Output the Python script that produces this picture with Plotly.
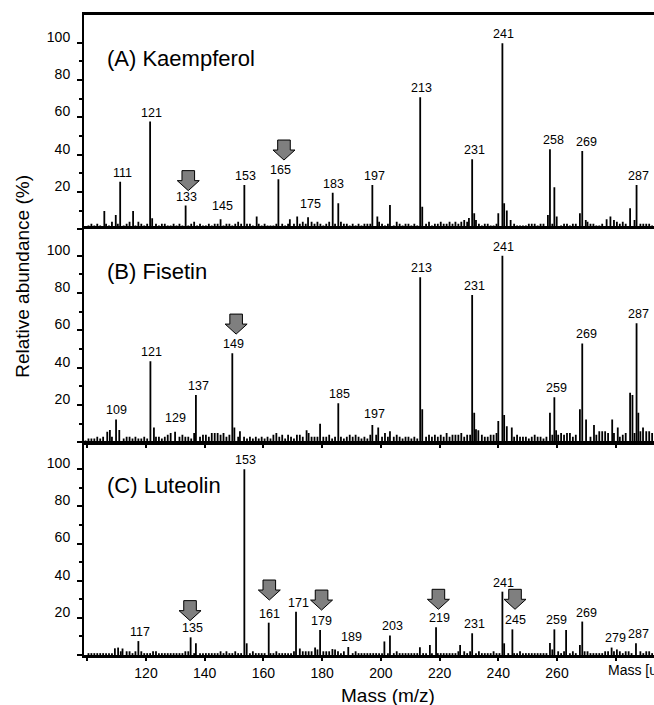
import plotly.graph_objects as go

# ---------------- data ----------------
MZ_OFFSET = 0.4          # mass-defect offset of the unlabelled noise lines
NOISE_START = 99         # first nominal mass of the noise arrays

# Panel A  (Kaempferol)
A_NOISE = [1,2,3,2,3,2,3,3,2,4,
           5,3,3,2,3,4,3,2,4,3,
           2,3,3,4,3,2,3,3,2,2,
           3,2,3,2,4,2,3,4,2,3,
           2,2,3,2,3,3,5,2,3,3,
           2,3,4,3,2,3,3,2,4,3,
           2,3,2,2,2,3,2,3,2,3,
           4,3,4,3,4,3,5,4,3,4,
           3,2,3,4,3,3,4,4,3,3,
           2,3,2,3,2,3,3,3,3,2,
           4,3,2,3,2,2,4,3,2,3,
           3,2,3,2,3,4,3,4,2,3,
           3,4,3,3,4,3,4,3,4,5,
           4,3,3,5,3,2,3,3,2,2,
           3,4,3,4,4,3,3,2,2,2,
           2,3,3,3,2,3,3,3,4,3,
           4,3,2,3,3,2,3,3,3,4,
           3,4,3,3,2,2,3,4,5,5,
           5,4,3,4,3,4,3,5,3,3,
           3,3,3,2,3]
A_PEAK_MZ = [105.8, 109.7, 111.2, 115.6, 121.4, 122.1, 133.5, 145.4, 153.5, 157.7,
             165.1, 169.0, 171.5, 175.2, 183.6, 185.5, 197.1, 198.8, 203.1, 213.4,
             214.1, 230.0, 231.1, 231.8, 240.0, 241.4, 242.0, 242.9, 244.2, 256.9,
             257.6, 259.1, 259.9, 267.8, 268.6, 269.8, 276.9, 278.2, 284.9, 287.1]
A_PEAK_INT = [9.8, 7.6, 25.5, 9.8, 57.7, 5.9, 12.7, 5.4, 23.7, 6.8,
              26.8, 5.4, 6.8, 6.5, 19.6, 13.9, 23.7, 6.8, 13.0, 70.7,
              12.0, 6.0, 37.5, 8.6, 8.6, 99.7, 13.9, 10.0, 5.0, 7.7,
              42.9, 22.5, 6.8, 8.6, 42.0, 5.0, 5.4, 6.8, 11.3, 23.7]
A_LABELS = ["111", "121", "133", "145", "153", "165", "175", "183", "197", "213",
            "231", "241", "258", "269", "287"]
A_LABEL_Y = [25.5, 57.7, 12.7, 7.5, 23.7, 26.8, 8.5, 19.6, 23.7, 70.7,
             37.5, 99.7, 42.9, 42.0, 23.7]
A_ARROW_MZ = [134.4, 167.0]
A_ARROW_TIP = [20.7, 37.1]

# Panel B  (Fisetin)
B_NOISE = [1,2,2,2,3,2,3,4,4,3,
           5,5,4,2,3,3,2,3,2,2,
           3,2,4,6,3,3,2,3,4,5,
           6,4,3,4,3,3,2,5,4,3,
           4,4,3,5,5,5,4,5,3,4,
           5,7,3,5,3,2,3,2,3,2,
           3,2,3,2,4,5,3,4,2,4,
           3,2,4,4,3,2,5,3,3,3,
           4,3,3,4,2,3,3,3,2,3,
           4,3,4,3,2,3,2,4,3,4,
           3,3,5,3,3,3,4,3,2,3,
           3,2,3,2,3,4,3,4,3,4,
           3,4,3,5,3,4,4,4,5,3,
           4,4,3,7,3,4,3,3,4,4,
           5,4,3,4,4,5,3,4,3,3,
           3,2,3,4,3,3,2,3,3,4,
           5,4,5,4,5,5,3,4,3,4,
           4,6,3,5,4,6,6,6,5,7,
           5,6,3,4,5,6,4,5,8,6,
           8,6,6,5,5]
B_PEAK_MZ = [106.8, 107.7, 109.8, 110.9, 121.5, 122.7, 129.9, 137.0, 149.4, 150.1,
             152.0, 174.7, 179.3, 185.5, 197.1, 199.1, 203.1, 213.4, 214.1, 231.1,
             231.8, 233.2, 240.0, 241.4, 242.0, 242.9, 244.6, 257.6, 259.1, 259.7,
             267.8, 268.6, 269.9, 272.6, 278.8, 280.7, 284.9, 285.7, 287.1, 287.7,
             289.3]
B_PEAK_INT = [5.7, 6.6, 12.3, 6.6, 43.4, 8.0, 5.7, 25.3, 47.7, 8.0,
              6.0, 6.5, 10.0, 20.9, 9.3, 8.0, 6.0, 88.4, 17.7, 78.9,
              15.9, 6.5, 11.4, 100.0, 14.6, 8.6, 8.0, 15.9, 24.1, 6.5,
              17.7, 53.0, 12.3, 9.3, 12.3, 8.0, 26.6, 25.3, 63.8, 15.9,
              8.0]
B_LABELS = ["109", "121", "129", "137", "149", "185", "197", "213", "231", "241",
            "259", "269", "287"]
B_LABEL_Y = [12.3, 43.4, 8.4, 25.3, 47.7, 20.9, 10.5, 88.4, 78.9, 100.0,
             24.1, 53.0, 63.8]
B_ARROW_MZ = [150.7]
B_ARROW_TIP = [58.0]

# Panel C  (Luteolin)
C_NOISE = [0,1,1,1,1,1,1,1,1,1,
           3,3,2,1,2,2,1,2,1,2,
           1,1,1,2,2,1,1,1,1,1,
           1,1,1,1,2,2,2,1,2,1,
           1,1,1,1,1,1,2,1,2,1,
           1,2,1,1,1,1,1,2,1,1,
           1,1,1,1,1,2,1,1,1,1,
           1,2,1,3,2,2,2,2,2,3,
           2,2,2,2,2,3,2,1,2,1,
           2,1,2,1,1,1,1,1,1,1,
           1,1,2,1,2,1,2,1,1,1,
           1,1,1,1,1,1,1,2,1,1,
           1,1,1,1,1,1,1,2,3,2,
           1,2,1,1,2,1,1,1,1,2,
           1,1,2,1,1,2,1,1,2,1,
           1,1,1,1,1,1,1,1,2,3,
           2,2,1,2,1,1,2,1,2,2,
           2,2,1,1,1,1,1,2,2,1,
           2,3,2,1,2,2,1,2,2,2,
           1,2,2,1,1]
C_PEAK_MZ = [109.4, 110.5, 112.0, 117.4, 135.2, 137.0, 153.5, 154.3, 161.8, 171.1,
             172.4, 177.6, 179.3, 183.5, 188.9, 201.2, 203.1, 213.3, 216.7, 218.8,
             227.0, 231.1, 241.4, 242.0, 244.8, 257.6, 259.1, 263.1, 267.8, 268.6,
             278.6, 286.9]
C_PEAK_INT = [3.6, 4.0, 3.5, 7.5, 9.5, 6.3, 100.0, 6.3, 17.4, 23.3,
              3.5, 4.1, 13.5, 3.2, 4.3, 7.3, 10.5, 4.2, 5.4, 14.9,
              5.4, 11.7, 34.1, 6.3, 13.8, 6.5, 13.8, 13.5, 5.4, 18.0,
              4.0, 6.3]
C_LABELS = ["117", "135", "153", "161", "171", "179", "189", "203", "219", "231",
            "241", "245", "259", "269", "279", "287"]
C_LABEL_Y = [7.5, 9.5, 100.0, 17.4, 23.3, 13.5, 5.0, 10.5, 14.9, 11.7,
             34.1, 13.8, 13.8, 18.0, 4.5, 6.3]
C_ARROW_MZ = [135.0, 162.0, 179.8, 219.6, 245.7]
C_ARROW_TIP = [18.5, 29.6, 24.2, 24.6, 24.6]

PANEL_TITLES = ["(A) Kaempferol", "(B) Fisetin", "(C) Luteolin"]
X_TICKS = [100, 120, 140, 160, 180, 200, 220, 240, 260, 280]
X_TICKTEXT = ["", "120", "140", "160", "180", "200", "220", "240", "260", ""]
Y_TICKS = [0, 20, 40, 60, 80, 100]
Y_TICKTEXT = ["", "20", "40", "60", "80", "100"]

# ---------------- figure ----------------
FONT = "Liberation Sans, Arial, sans-serif"
X_RANGE = [98.88, 293.04]

panels = [
    dict(noise=A_NOISE, mz=A_PEAK_MZ, it=A_PEAK_INT, labels=A_LABELS, label_y=A_LABEL_Y,
         amz=A_ARROW_MZ, atip=A_ARROW_TIP, domain=[0.6652, 1.0], yr=[0, 114.8]),
    dict(noise=B_NOISE, mz=B_PEAK_MZ, it=B_PEAK_INT, labels=B_LABELS, label_y=B_LABEL_Y,
         amz=B_ARROW_MZ, atip=B_ARROW_TIP, domain=[0.3323, 0.6656], yr=[0, 114.3]),
    dict(noise=C_NOISE, mz=C_PEAK_MZ, it=C_PEAK_INT, labels=C_LABELS, label_y=C_LABEL_Y,
         amz=C_ARROW_MZ, atip=C_ARROW_TIP, domain=[0.0, 0.3297], yr=[0, 113.6]),
]


def spectrum(noise, pk_mz, pk_int):
    xs, ys = [], []
    for mz, h in zip(pk_mz, pk_int):
        xs += [mz, mz, None]
        ys += [0, h, None]
    for i, v in enumerate(noise):
        m = NOISE_START + i + MZ_OFFSET
        if v <= 0 or any(abs(m - p) < 0.55 for p in pk_mz):
            continue
        xs += [m, m, None]
        ys += [0, v, None]
    return xs, ys


fig = go.Figure()
shapes, annotations = [], []
ARROW_PATH = "M 0 0 L -11 10 L -6.3 10 L -6.3 20 L 6.3 20 L 6.3 10 L 11 10 Z"

for i, p in enumerate(panels):
    sfx = "" if i == 0 else str(i + 1)
    xs, ys = spectrum(p["noise"], p["mz"], p["it"])
    fig.add_trace(go.Scatter(x=xs, y=ys, mode="lines",
                             line=dict(color="black", width=1.8),
                             xaxis="x" + sfx, yaxis="y" + sfx,
                             hoverinfo="skip", showlegend=False))
    last = i == 2
    fig.update_layout(**{
        "xaxis" + sfx: dict(range=X_RANGE, domain=[0, 1], anchor="y" + sfx,
                            showline=True, linecolor="black", linewidth=2.5, mirror=True,
                            ticks="outside", ticklen=3, tickwidth=1.5, tickcolor="black",
                            tickvals=X_TICKS, ticktext=X_TICKTEXT,
                            showticklabels=last, showgrid=False, zeroline=False,
                            tickfont=dict(family=FONT, size=14, color="black")),
        "yaxis" + sfx: dict(range=p["yr"], domain=p["domain"], anchor="x" + sfx,
                            showline=True, linecolor="black", linewidth=2,
                            ticks="outside", ticklen=5, tickwidth=1.5, tickcolor="black",
                            tickvals=Y_TICKS, ticktext=Y_TICKTEXT,
                            ticklabelshift=-6, ticklabelstandoff=4,
                            minor=dict(tickvals=[10, 30, 50, 70, 90], ticks="outside",
                                       ticklen=3, tickwidth=1.5, tickcolor="black"),
                            showgrid=False, zeroline=False,
                            tickfont=dict(family=FONT, size=14, color="black")),
    })
    # peak labels
    for t, ly in zip(p["labels"], p["label_y"]):
        annotations.append(dict(x=int(t) + MZ_OFFSET, y=ly, xref="x" + sfx, yref="y" + sfx,
                                text=t, showarrow=False, xanchor="center", yanchor="bottom",
                                xshift=1.5, yshift=0,
                                font=dict(family=FONT, size=12.5, color="black")))
    # panel title
    annotations.append(dict(x=0.0368, y=91.5, xref="paper", yref="y" + sfx,
                            text=PANEL_TITLES[i], showarrow=False, xanchor="left",
                            yanchor="middle", font=dict(family=FONT, size=22, color="black")))
    # arrows
    for am, at in zip(p["amz"], p["atip"]):
        shapes.append(dict(type="path", xref="x" + sfx, yref="y" + sfx,
                           xsizemode="pixel", ysizemode="pixel",
                           xanchor=am, yanchor=at, path=ARROW_PATH,
                           fillcolor="#7f7f7f", line=dict(color="black", width=1)))

annotations.append(dict(x=276.6, y=-0.0234, xref="x3", yref="paper", text="Mass [u]",
                        showarrow=False, xanchor="left", yanchor="middle",
                        font=dict(family=FONT, size=14, color="black")))
annotations.append(dict(x=0.533, y=-0.0625, xref="paper", yref="paper", text="Mass (m/z)",
                        showarrow=False, xanchor="center", yanchor="middle",
                        font=dict(family=FONT, size=19, color="black")))
annotations.append(dict(x=-0.1093, y=0.592, xref="paper", yref="paper",
                        text="Relative abundance (%)", textangle=-90,
                        showarrow=False, xanchor="center", yanchor="middle",
                        font=dict(family=FONT, size=19, color="black")))

fig.update_layout(width=654, height=705, margin=dict(l=84, r=0, t=15, b=50),
                  paper_bgcolor="white", plot_bgcolor="white",
                  shapes=shapes, annotations=annotations, showlegend=False,
                  font=dict(family=FONT, color="black"))

fig.write_html("out.html")
